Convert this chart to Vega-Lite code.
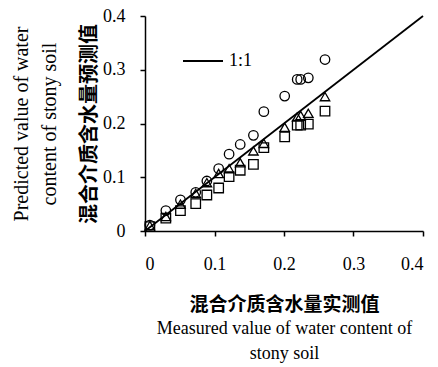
{
  "$schema": "https://vega.github.io/schema/vega-lite/v6.json",
  "width": 278,
  "height": 215,
  "autosize": {"type": "none"},
  "padding": {"left": 145, "top": 16, "right": 15, "bottom": 136},
  "background": "white",
  "config": {
    "font": "Liberation Serif",
    "view": {"stroke": null},
    "axis": {"grid": false, "domainColor": "black", "tickColor": "black", "labelColor": "black", "titleColor": "black", "domainWidth": 1.5, "tickWidth": 1.5, "labelFont": "'Liberation Serif', 'Times New Roman', serif", "labelFontSize": 18},
    "legend": {"labelFont": "'Liberation Serif', 'Times New Roman', serif", "labelFontSize": 18, "labelColor": "black"}
  },
  "datasets": {
    "ref": [
      {"x": 0, "y": 0, "k": "1:1"},
      {"x": 0.4, "y": 0.4, "k": "1:1"}
    ],
    "pts": [
      {"m": 0.007, "p": 0.011, "s": "A"},
      {"m": 0.030, "p": 0.038, "s": "A"},
      {"m": 0.051, "p": 0.058, "s": "A"},
      {"m": 0.073, "p": 0.072, "s": "A"},
      {"m": 0.089, "p": 0.093, "s": "A"},
      {"m": 0.106, "p": 0.116, "s": "A"},
      {"m": 0.121, "p": 0.143, "s": "A"},
      {"m": 0.137, "p": 0.161, "s": "A"},
      {"m": 0.156, "p": 0.178, "s": "A"},
      {"m": 0.171, "p": 0.222, "s": "A"},
      {"m": 0.201, "p": 0.251, "s": "A"},
      {"m": 0.219, "p": 0.282, "s": "A"},
      {"m": 0.224, "p": 0.282, "s": "A"},
      {"m": 0.235, "p": 0.285, "s": "A"},
      {"m": 0.259, "p": 0.319, "s": "A"},
      {"m": 0.007, "p": 0.010, "s": "B"},
      {"m": 0.030, "p": 0.027, "s": "B"},
      {"m": 0.051, "p": 0.050, "s": "B"},
      {"m": 0.073, "p": 0.070, "s": "B"},
      {"m": 0.089, "p": 0.090, "s": "B"},
      {"m": 0.106, "p": 0.107, "s": "B"},
      {"m": 0.121, "p": 0.116, "s": "B"},
      {"m": 0.137, "p": 0.127, "s": "B"},
      {"m": 0.156, "p": 0.149, "s": "B"},
      {"m": 0.171, "p": 0.163, "s": "B"},
      {"m": 0.201, "p": 0.193, "s": "B"},
      {"m": 0.219, "p": 0.212, "s": "B"},
      {"m": 0.224, "p": 0.215, "s": "B"},
      {"m": 0.235, "p": 0.219, "s": "B"},
      {"m": 0.259, "p": 0.250, "s": "B"},
      {"m": 0.007, "p": 0.008, "s": "C"},
      {"m": 0.030, "p": 0.024, "s": "C"},
      {"m": 0.051, "p": 0.038, "s": "C"},
      {"m": 0.073, "p": 0.051, "s": "C"},
      {"m": 0.089, "p": 0.067, "s": "C"},
      {"m": 0.106, "p": 0.080, "s": "C"},
      {"m": 0.121, "p": 0.101, "s": "C"},
      {"m": 0.137, "p": 0.113, "s": "C"},
      {"m": 0.156, "p": 0.124, "s": "C"},
      {"m": 0.171, "p": 0.155, "s": "C"},
      {"m": 0.201, "p": 0.175, "s": "C"},
      {"m": 0.219, "p": 0.197, "s": "C"},
      {"m": 0.224, "p": 0.197, "s": "C"},
      {"m": 0.235, "p": 0.199, "s": "C"},
      {"m": 0.259, "p": 0.223, "s": "C"}
    ]
  },
  "resolve": {"axis": {"x": "independent", "y": "independent"}},
  "layer": [
    {
      "data": {"name": "ref"},
      "mark": {"type": "line", "strokeWidth": 1.8},
      "encoding": {
        "x": {
          "field": "x", "type": "quantitative",
          "scale": {"domain": [0, 0.4], "nice": false, "zero": false},
          "axis": {
            "orient": "bottom", "values": [0, 0.1, 0.2, 0.3, 0.4], "format": ".1~f",
            "tickSize": 5, "labelPadding": 19,
            "title": "混合介质含水量实测值", "titleFont": "Noto Sans CJK SC", "titleFontWeight": "bold", "titleFontSize": 19, "titlePadding": 22
          }
        },
        "y": {
          "field": "y", "type": "quantitative",
          "scale": {"domain": [0, 0.4], "nice": false, "zero": false},
          "axis": {
            "orient": "left", "values": [0, 0.1, 0.2, 0.3, 0.4], "format": ".1~f",
            "tickSize": 5, "labelPadding": 15,
            "title": "混合介质含水量预测值", "titleFont": "Noto Sans CJK SC", "titleFontWeight": "bold", "titleFontSize": 20, "titlePadding": 3
          }
        },
        "color": {
          "field": "k", "type": "nominal",
          "scale": {"domain": ["1:1"], "range": ["black"]},
          "legend": {
            "orient": "none", "legendX": 37, "legendY": 24, "title": null,
            "symbolType": "stroke", "symbolSize": 1600, "symbolStrokeWidth": 1.8,
            "labelOffset": 5
          }
        }
      }
    },
    {
      "data": {"name": "pts"},
      "mark": {"type": "point", "filled": false, "strokeWidth": 1.3, "size": 90, "color": "black", "opacity": 1},
      "encoding": {
        "x": {
          "field": "m", "type": "quantitative",
          "axis": {
            "orient": "bottom", "domain": false, "ticks": false, "labels": false,
            "title": ["Measured value of water content of", "stony soil"],
            "titleFont": "Liberation Serif", "titleFontWeight": "normal", "titleFontSize": 18, "titleLineHeight": 25, "titlePadding": 88
          }
        },
        "y": {
          "field": "p", "type": "quantitative",
          "axis": {
            "orient": "left", "domain": false, "ticks": false, "labels": false,
            "title": ["Predicted value of water", "content of stony soil"],
            "titleFont": "Liberation Serif", "titleFontWeight": "normal", "titleFontSize": 20, "titleLineHeight": 28, "titlePadding": 86
          }
        },
        "shape": {
          "field": "s", "type": "nominal",
          "scale": {"domain": ["A", "B", "C"], "range": ["circle", "triangle-up", "square"]},
          "legend": null
        }
      }
    }
  ]
}
